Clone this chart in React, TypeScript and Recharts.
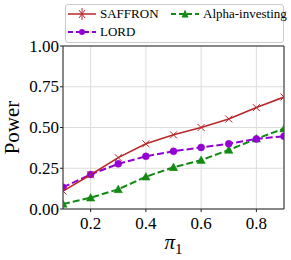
import React from "react";
import { LineChart, Line, XAxis, YAxis, CartesianGrid, ReferenceLine } from "recharts";

const piValues = [0.1, 0.2, 0.3, 0.4, 0.5, 0.6, 0.7, 0.8, 0.9];
const saffron = [0.11, 0.21, 0.315, 0.4, 0.455, 0.5, 0.552, 0.622, 0.687];
const lord = [0.133, 0.212, 0.277, 0.323, 0.354, 0.378, 0.4, 0.43, 0.446];
const alphaInvesting = [0.031, 0.069, 0.121, 0.198, 0.256, 0.3, 0.362, 0.431, 0.493];
const xTicks = [0.2, 0.4, 0.6, 0.8];
const yTicks = [0, 0.25, 0.5, 0.75, 1];

const data = piValues.map((p, i) => ({
  pi: p,
  saffron: saffron[i],
  lord: lord[i],
  alpha: alphaInvesting[i],
}));

const FONT = "'Liberation Serif', 'DejaVu Serif', serif";
const RED = "#b8282a";
const PURPLE = "#9400d3";
const GREEN = "#138a13";
const AXIS = "#222";

const XMark = (props: any) => {
  const { cx, cy } = props;
  if (cx == null || cy == null) return null;
  const s = 3.5;
  return (
    <g>
      <line x1={cx - s} y1={cy - s} x2={cx + s} y2={cy + s} stroke={RED} strokeWidth={1} />
      <line x1={cx - s} y1={cy + s} x2={cx + s} y2={cy - s} stroke={RED} strokeWidth={1} />
    </g>
  );
};

const CircleMark = (props: any) => {
  const { cx, cy } = props;
  if (cx == null || cy == null) return null;
  return <circle cx={cx} cy={cy} r={3.5} fill={PURPLE} stroke={PURPLE} strokeWidth={0.5} />;
};

const TriMark = (props: any) => {
  const { cx, cy } = props;
  if (cx == null || cy == null) return null;
  const s = 4.2;
  return (
    <polygon
      points={`${cx},${cy - s} ${cx - s},${cy + s * 0.8} ${cx + s},${cy + s * 0.8}`}
      fill={GREEN}
      stroke={GREEN}
      strokeWidth={0.5}
    />
  );
};

const legendItems = [
  { name: "SAFFRON", color: RED, dash: undefined, marker: "x" },
  { name: "Alpha-investing", color: GREEN, dash: "5 3", marker: "tri" },
  { name: "LORD", color: PURPLE, dash: "5 3", marker: "circle" },
];

const Swatch = ({ color, dash, marker }: any) => (
  <svg width={28} height={12} style={{ display: "block" }}>
    <line x1={0} y1={6} x2={28} y2={6} stroke={color} strokeWidth={dash ? 2 : 1.5} strokeDasharray={dash} />
    {marker === "x" && (
      <g stroke={color} strokeWidth={1}>
        <line x1={11} y1={2} x2={17} y2={10} />
        <line x1={11} y1={10} x2={17} y2={2} />
        <line x1={14} y1={0} x2={14} y2={12} />
      </g>
    )}
    {marker === "circle" && <circle cx={14} cy={6} r={3} fill={color} />}
    {marker === "tri" && <polygon points="14,1.5 10.5,9.5 17.5,9.5" fill={color} />}
  </svg>
);

const LegendBox = () => (
  <div
    style={{
      position: "absolute",
      left: 65,
      top: 4,
      width: 219,
      height: 39,
      border: "1px solid #cccccc",
      borderRadius: 3,
      background: "rgba(255,255,255,0.85)",
      boxSizing: "border-box",
      fontFamily: FONT,
      fontSize: 13,
      color: "#000",
    }}
  >
    {legendItems.map((it, i) => {
      const left = i === 1 ? 105 : 2;
      const top = i === 2 ? 21 : 3;
      return (
        <div
          key={it.name}
          style={{ position: "absolute", left, top, display: "flex", alignItems: "center", whiteSpace: "nowrap", lineHeight: "12px" }}
        >
          <Swatch color={it.color} dash={it.dash} marker={it.marker} />
          <span style={{ marginLeft: 4 }}>{it.name}</span>
        </div>
      );
    })}
  </div>
);

const XTick = (props: any) => {
  const { x, y, payload } = props;
  return (
    <text x={x} y={y} dy={13} textAnchor="middle" fontFamily={FONT} fontSize={17} fill="#000">
      {Number(payload.value).toFixed(1)}
    </text>
  );
};

const YTick = (props: any) => {
  const { x, y, payload } = props;
  return (
    <text x={x} y={y} dy={5.5} textAnchor="end" fontFamily={FONT} fontSize={17} fill="#000">
      {Number(payload.value).toFixed(2)}
    </text>
  );
};

const XLabel = (props: any) => {
  const { viewBox } = props;
  const cx = viewBox.x + viewBox.width / 2;
  return (
    <text x={cx} y={249} textAnchor="middle" fontFamily={FONT} fontSize={21} fill="#000">
      <tspan fontStyle="italic">π</tspan>
      <tspan fontSize={15} dy={5}>1</tspan>
    </text>
  );
};

const YLabel = (props: any) => {
  const { viewBox } = props;
  const cy = viewBox.y + viewBox.height / 2;
  const x = 19;
  return (
    <text x={x} y={cy} transform={`rotate(-90, ${x}, ${cy})`} textAnchor="middle" fontFamily={FONT} fontSize={21} fill="#000">
      Power
    </text>
  );
};

export default function App() {
  return (
    <div style={{ position: "absolute", left: 0, top: 0, width: 291, height: 260, background: "#fff" }}>
      <LineChart width={291} height={260} data={data} margin={{ top: 46, right: 7, left: 0, bottom: 0 }}>
        <CartesianGrid stroke="#dddddd" strokeWidth={1} />
        <XAxis
          dataKey="pi"
          type="number"
          domain={[0.1, 0.9]}
          ticks={xTicks}
          allowDataOverflow
          height={51}
          tickSize={3}
          tickMargin={4}
          stroke={AXIS}
          tick={<XTick />}
          label={<XLabel />}
        />
        <YAxis
          type="number"
          domain={[0, 1]}
          ticks={yTicks}
          allowDataOverflow
          width={63}
          tickSize={3}
          tickMargin={1}
          stroke={AXIS}
          tick={<YTick />}
          label={<YLabel />}
        />
        <ReferenceLine y={1} stroke={AXIS} />
        <ReferenceLine x={0.9} stroke={AXIS} />
        <Line dataKey="alpha" stroke={GREEN} strokeWidth={2} strokeDasharray="7 3" dot={<TriMark />} isAnimationActive={false} />
        <Line dataKey="lord" stroke={PURPLE} strokeWidth={2} strokeDasharray="7 3" dot={<CircleMark />} isAnimationActive={false} />
        <Line dataKey="saffron" stroke={RED} strokeWidth={1.6} dot={<XMark />} isAnimationActive={false} />
      </LineChart>
      <LegendBox />
    </div>
  );
}
